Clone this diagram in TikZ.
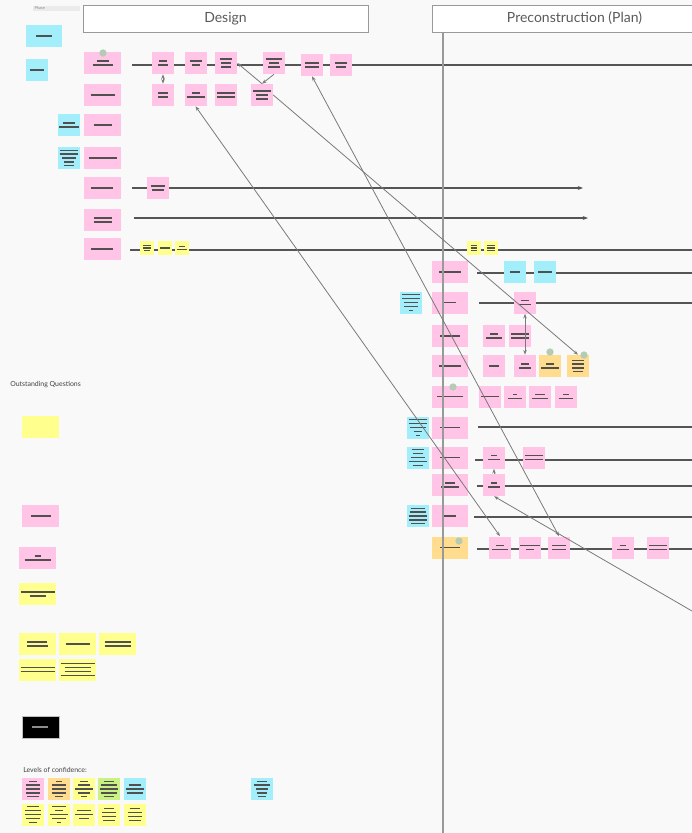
\documentclass[tikz,border=0pt]{standalone}
\usepackage{fontspec}
\setmainfont{Lato}
\usetikzlibrary{arrows.meta}

\definecolor{bg}{HTML}{F9F9F9}
\definecolor{notepink}{HTML}{FFC4E6}
\definecolor{notecyan}{HTML}{A2EEFB}
\definecolor{noteyellow}{HTML}{FFFF8E}
\definecolor{noteorange}{HTML}{FFDC8E}
\definecolor{notegreen}{HTML}{C9F283}
\definecolor{greek}{HTML}{505050}
\definecolor{rowline}{HTML}{555555}
\definecolor{linkgray}{HTML}{7A7A7A}
\definecolor{dotgreen}{HTML}{B4CCB4}
\definecolor{titlegray}{HTML}{999999}
\definecolor{titletext}{HTML}{5A5A5A}

\setlength{\unitlength}{0.75pt}
\newcommand{\gl}[1]{\rule{#1\unitlength}{1pt}}

\begin{document}
\begin{tikzpicture}[
    x=0.75pt, y=-0.75pt,
    note/.style={inner sep=0pt, align=center, text=greek, font=\fontsize{1pt}{2.9pt}\selectfont},
    big/.style={note, minimum width=27.75pt, minimum height=16.5pt},
    small/.style={note, minimum size=16.5pt},
    mini/.style={note, minimum size=10.5pt, font=\fontsize{1pt}{2pt}\selectfont},
    row/.style={draw=rowline, line width=1.1pt},
    link/.style={draw=linkgray, line width=0.6pt, -{Stealth[length=3.5pt,width=2.6pt]}},
    both/.style={link, {Stealth[length=3.5pt,width=2.6pt]}-{Stealth[length=3.5pt,width=2.6pt]}},
    dot/.style={circle, fill=dotgreen, minimum size=5.5pt, inner sep=0pt},
    title/.style={draw=titlegray, fill=white, line width=0.7pt, minimum width=213.75pt, minimum height=20.25pt, font=\fontsize{10.5pt}{12pt}\selectfont, text=titletext},
    label/.style={anchor=west, inner sep=0pt, font=\fontsize{5.2pt}{6pt}\selectfont, text=black!75}
]
    \useasboundingbox (0,0) rectangle (692,833);
    \clip (0,0) rectangle (692,833);
    \fill[bg] (0,0) rectangle (692,833);

    \coordinate (r1s) at (132,65);
    \coordinate (r1e) at (692,65);
    \coordinate (r5s) at (132,188);
    \coordinate (r5e) at (583,188);
    \coordinate (r6s) at (134,218);
    \coordinate (r6e) at (588,218);
    \coordinate (r7s) at (130,250);
    \coordinate (r7e) at (692,250);
    \coordinate (p1s) at (477,273);
    \coordinate (p1e) at (692,273);
    \coordinate (p2s) at (479,303);
    \coordinate (p2e) at (692,303);
    \coordinate (p6s) at (478,427);
    \coordinate (p6e) at (692,427);
    \coordinate (p7s) at (475,460);
    \coordinate (p7e) at (692,460);
    \coordinate (p8s) at (477,486);
    \coordinate (p8e) at (692,486);
    \coordinate (p9s) at (474,517);
    \coordinate (p9e) at (692,517);
    \coordinate (p10s) at (477,549);
    \coordinate (p10e) at (692,549);
    \coordinate (vtop) at (443,32);
    \coordinate (vbot) at (443,833);
    \coordinate (fe) at (692,611);

    \draw[row] (r1s) -- (r1e);
    \draw[row, -{Stealth[length=4pt,width=3pt]}] (r5s) -- (r5e);
    \draw[row, -{Stealth[length=4pt,width=3pt]}] (r6s) -- (r6e);
    \draw[row] (r7s) -- (r7e);
    \draw[row] (p1s) -- (p1e);
    \draw[row] (p2s) -- (p2e);
    \draw[row] (p6s) -- (p6e);
    \draw[row] (p7s) -- (p7e);
    \draw[row] (p8s) -- (p8e);
    \draw[row] (p9s) -- (p9e);
    \draw[row] (p10s) -- (p10e);

    \node[fill=black!8, text width=33pt, inner sep=0.8pt, align=left, font=\fontsize{3pt}{3pt}\selectfont, text=black!45] (phase) at (56.5,8.5) {Phase};
    \node[title] (design) at (225.5,18.5) {Design};
    \node[title] (precon) at (574.5,18.5) {Preconstruction (Plan)};

    \node[big, fill=notecyan, minimum width=27pt] (ca) at (44,36) {\gl{16}};
    \node[small, fill=notecyan] (cb) at (37,70) {\gl{14}};

    \node[big, fill=notepink] (d1) at (102.5,63) {\gl{12}\\\gl{20}};
    \node[big, fill=notepink] (d2) at (102.5,95) {\gl{24}};
    \node[big, fill=notepink] (d3) at (102.5,125) {\gl{18}};
    \node[big, fill=notepink] (d4) at (102.5,158) {\gl{28}};
    \node[big, fill=notepink] (d5) at (102.5,188) {\gl{22}};
    \node[big, fill=notepink] (d6) at (102.5,220) {\gl{18}\\\gl{18}};
    \node[big, fill=notepink] (d7) at (102.5,249) {\gl{22}};
    \node[small, fill=notecyan] (c3) at (69,125) {\gl{12}\\\gl{20}};
    \node[small, fill=notecyan] (c4) at (69,158) {\gl{18}\\\gl{18}\\\gl{14}\\\gl{10}\\\gl{10}};

    \node[small, fill=notepink] (d1a) at (163,63) {\gl{8}\\\gl{10}};
    \node[small, fill=notepink] (d1b) at (195.5,63) {\gl{12}\\\gl{8}};
    \node[small, fill=notepink] (d1c) at (226,63) {\gl{12}\\\gl{10}\\\gl{10}};
    \node[small, fill=notepink] (d1d) at (274,63) {\gl{16}\\\gl{10}\\\gl{12}};
    \node[small, fill=notepink] (d1e) at (312,65) {\gl{14}\\\gl{14}};
    \node[small, fill=notepink] (d1f) at (341,65) {\gl{12}\\\gl{10}};
    \node[small, fill=notepink] (d2a) at (163,95) {\gl{10}\\\gl{10}};
    \node[small, fill=notepink] (d2b) at (195.5,95) {\gl{8}\\\gl{18}};
    \node[small, fill=notepink] (d2c) at (226,95) {\gl{18}\\\gl{18}};
    \node[small, fill=notepink] (d2d) at (262,95) {\gl{18}\\\gl{12}\\\gl{12}};
    \node[small, fill=notepink] (d5a) at (158,188) {\gl{14}\\\gl{12}};
    \node[mini, fill=noteyellow] (y7a) at (147,248) {\gl{8}\\\gl{8}\\\gl{6}};
    \node[mini, fill=noteyellow] (y7b) at (165,248) {\gl{10}};
    \node[mini, fill=noteyellow] (y7c) at (182,248) {\gl{6}\\\gl{10}};
    \node[mini, fill=noteyellow] (y7d) at (473.5,248) {\gl{6}\\\gl{6}\\\gl{6}};
    \node[mini, fill=noteyellow] (y7e) at (490.5,248) {\gl{8}\\\gl{8}\\\gl{8}};

    \node[big, fill=notepink, minimum width=27pt] (p1) at (450,272) {\gl{22}};
    \node[big, fill=notepink, minimum width=27pt] (p2) at (450,302.5) {\gl{12}};
    \node[big, fill=notepink, minimum width=27pt] (p3) at (450,336) {\gl{20}};
    \node[big, fill=notepink, minimum width=27pt] (p4) at (450,366) {\gl{22}};
    \node[big, fill=notepink, minimum width=27pt] (p5) at (450,396.5) {\gl{26}};
    \node[big, fill=notepink, minimum width=27pt] (p6) at (450,427.5) {\gl{20}};
    \node[big, fill=notepink, minimum width=27pt] (p7) at (450,457.5) {\gl{20}};
    \node[big, fill=notepink, minimum width=27pt] (p8) at (450,485) {\gl{10}\\\gl{18}};
    \node[big, fill=notepink, minimum width=27pt] (p9) at (450,516) {\gl{12}};
    \node[big, fill=noteorange, minimum width=27pt] (p10) at (450,547.5) {\gl{20}};
    \node[small, fill=notecyan] (c2) at (411,302.5) {\gl{18}\\\gl{18}\\\gl{14}\\\gl{14}\\\gl{4}};
    \node[small, fill=notecyan] (c6) at (417.5,427.5) {\gl{18}\\\gl{18}\\\gl{16}\\\gl{8}\\\gl{4}};
    \node[small, fill=notecyan] (c7) at (417.5,457.5) {\gl{12}\\\gl{10}\\\gl{14}\\\gl{18}\\\gl{10}};
    \node[small, fill=notecyan] (c9) at (417.5,516) {\gl{14}\\\gl{16}\\\gl{18}\\\gl{18}\\\gl{14}};

    \node[small, fill=notecyan] (p1a) at (515,272) {\gl{10}};
    \node[small, fill=notecyan] (p1b) at (545,272) {\gl{14}};
    \node[small, fill=notepink] (p2a) at (525,302.5) {\gl{8}\\\gl{12}};
    \node[small, fill=notepink] (p3a) at (494,336) {\gl{8}\\\gl{16}};
    \node[small, fill=notepink] (p3b) at (520,336) {\gl{18}\\\gl{18}};
    \node[small, fill=notepink] (p4a) at (494,366) {\gl{10}};
    \node[small, fill=notepink] (p4b) at (525,366) {\gl{8}\\\gl{12}};
    \node[small, fill=noteorange] (o4a) at (550,366) {\gl{8}\\\gl{18}};
    \node[small, fill=noteorange] (o4b) at (578,366) {\gl{12}\\\gl{12}\\\gl{12}\\\gl{10}};
    \node[small, fill=notepink] (p5a) at (490,396.5) {\gl{18}};
    \node[small, fill=notepink] (p5b) at (515,396.5) {\gl{4}\\\gl{14}};
    \node[small, fill=notepink] (p5c) at (540,396.5) {\gl{10}\\\gl{16}};
    \node[small, fill=notepink] (p5d) at (566,396.5) {\gl{6}\\\gl{14}};
    \node[small, fill=notepink] (p7a) at (494,457.5) {\gl{6}\\\gl{12}};
    \node[small, fill=notepink] (p7b) at (534,457.5) {\gl{18}\\\gl{18}};
    \node[small, fill=notepink] (p8a) at (494,485) {\gl{6}\\\gl{12}};
    \node[small, fill=notepink] (p10a) at (500,547.5) {\gl{8}\\\gl{16}};
    \node[small, fill=notepink] (p10b) at (530,547.5) {\gl{20}\\\gl{8}};
    \node[small, fill=notepink] (p10c) at (559,547.5) {\gl{14}\\\gl{14}};
    \node[small, fill=notepink] (p10d) at (623,547.5) {\gl{6}\\\gl{12}};
    \node[small, fill=notepink] (p10e) at (658,547.5) {\gl{18}\\\gl{18}};

    \node[dot] (dot1) at (103,53) {};
    \node[dot] (dot2) at (550,352) {};
    \node[dot] (dot3) at (584,355) {};
    \node[dot] (dot4) at (453,387) {};
    \node[dot] (dot5) at (459,541) {};

    \node[label] (questions) at (10,385) {Outstanding Questions};
    \node[big, fill=noteyellow] (q1) at (40.5,427) {};
    \node[big, fill=notepink] (q2) at (40.5,516) {\gl{20}};
    \node[big, fill=notepink] (q3) at (37.5,558) {\gl{6}\\\gl{26}};
    \node[big, fill=noteyellow] (q4) at (37.5,594) {\gl{34}\\\gl{16}};
    \node[big, fill=noteyellow] (q5) at (37.5,644) {\gl{20}\\\gl{22}};
    \node[big, fill=noteyellow] (q6) at (77.5,644) {\gl{24}};
    \node[big, fill=noteyellow] (q7) at (117.5,644) {\gl{26}\\\gl{26}};
    \node[big, fill=noteyellow] (q8) at (37.5,669.5) {\gl{34}\\\gl{34}};
    \node[big, fill=noteyellow] (q9) at (77.5,669.5) {\gl{34}\\\gl{26}\\\gl{26}\\\gl{34}};
    \node[big, fill=black, draw=black!25, line width=0.5pt, text=black!45] (blk) at (40.5,727) {\gl{16}};

    \node[label] (confidence) at (23,770) {Levels of confidence:};
    \node[small, fill=notepink] (lv1) at (33,789) {\gl{8}\\\gl{14}\\\gl{14}\\\gl{14}\\\gl{12}};
    \node[small, fill=noteorange] (lv2) at (59,789) {\gl{6}\\\gl{14}\\\gl{14}\\\gl{14}\\\gl{8}};
    \node[small, fill=noteyellow] (lv3) at (84,789) {\gl{8}\\\gl{12}\\\gl{18}\\\gl{12}\\\gl{6}};
    \node[small, fill=notegreen] (lv4) at (109,789) {\gl{10}\\\gl{16}\\\gl{18}\\\gl{16}\\\gl{10}};
    \node[small, fill=notecyan] (lv5) at (134.5,789) {\gl{12}\\\gl{18}\\\gl{16}};
    \node[small, fill=noteyellow] (lv6) at (33,814.5) {\gl{12}\\\gl{16}\\\gl{16}\\\gl{14}\\\gl{8}};
    \node[small, fill=noteyellow] (lv7) at (59,814.5) {\gl{14}\\\gl{8}\\\gl{18}\\\gl{14}\\\gl{4}};
    \node[small, fill=noteyellow] (lv8) at (84,814.5) {\gl{14}\\\gl{18}\\\gl{10}};
    \node[small, fill=noteyellow] (lv9) at (109,814.5) {\gl{10}\\\gl{14}\\\gl{14}\\\gl{12}};
    \node[small, fill=noteyellow] (lv10) at (134.5,814.5) {\gl{10}\\\gl{14}\\\gl{14}\\\gl{12}};
    \node[small, fill=notecyan] (lc) at (262,789) {\gl{10}\\\gl{16}\\\gl{12}\\\gl{10}\\\gl{8}};

    \draw[draw=titlegray, line width=0.8pt] (vtop) -- (vbot);

    \draw[both] (d1a) -- (d2a);
    \draw[link] (d2d.north) -- (d1c.east);
    \draw[link] (d1d.south) -- (d2d.north);
    \draw[link] (d2d.east) -- (o4b.north);
    \draw[both] (d2b.south) -- (p10a.north);
    \draw[both] (d1e.south) -- (p10c.north);
    \draw[link] (fe) -- (p8a.south);
    \draw[both] (p2a) -- (p4b);
    \draw[link] (p8a) -- (p7a);
\end{tikzpicture}
\end{document}
